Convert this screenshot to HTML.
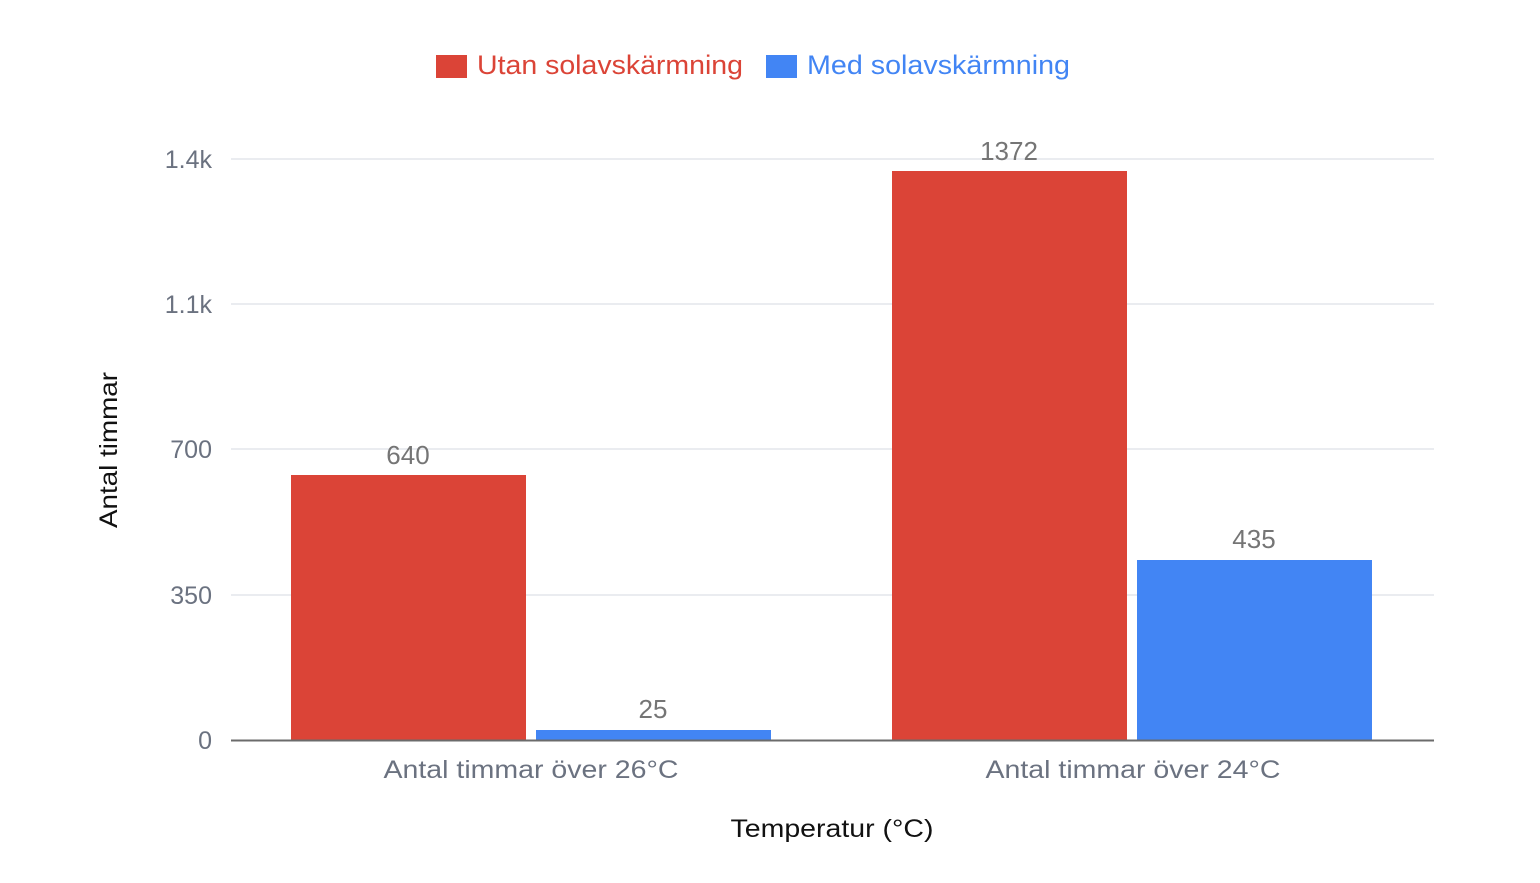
<!DOCTYPE html>
<html><head><meta charset="utf-8"><style>
body{margin:0;background:#fff;}
svg{display:block;font-family:"Liberation Sans",sans-serif;}
</style></head><body>
<svg width="1540" height="883" viewBox="0 0 1540 883">
<rect x="436" y="55" width="31" height="23" fill="#db4437"/>
<text x="477" y="74" font-size="27" fill="#db4437" textLength="266" lengthAdjust="spacingAndGlyphs">Utan solavskärmning</text>
<rect x="766" y="55" width="31" height="23" fill="#4285f4"/>
<text x="807" y="74" font-size="27" fill="#4285f4" textLength="263" lengthAdjust="spacingAndGlyphs">Med solavskärmning</text>
<g stroke="#e3e6ec" stroke-width="1.5">
<line x1="231" y1="159" x2="1434" y2="159"/>
<line x1="231" y1="304" x2="1434" y2="304"/>
<line x1="231" y1="449" x2="1434" y2="449"/>
<line x1="231" y1="595" x2="1434" y2="595"/>
</g>
<g font-size="25" fill="#6b7280" text-anchor="end">
<text x="212" y="168">1.4k</text>
<text x="212" y="313">1.1k</text>
<text x="212" y="458">700</text>
<text x="212" y="604">350</text>
<text x="212" y="749">0</text>
</g>
<rect x="291" y="475" width="235" height="265" fill="#db4437"/>
<rect x="536" y="730" width="235" height="10" fill="#4285f4"/>
<rect x="892" y="171" width="235" height="569" fill="#db4437"/>
<rect x="1137" y="560" width="235" height="180" fill="#4285f4"/>
<line x1="231" y1="740.5" x2="1434" y2="740.5" stroke="#6b6b6b" stroke-width="2"/>
<g font-size="26" fill="#757575" text-anchor="middle">
<text x="408" y="464">640</text>
<text x="653" y="718">25</text>
<text x="1009" y="160">1372</text>
<text x="1254" y="548">435</text>
</g>
<g font-size="25" fill="#6b7280" text-anchor="middle">
<text x="531" y="778" textLength="295" lengthAdjust="spacingAndGlyphs">Antal timmar över 26°C</text>
<text x="1133" y="778" textLength="295" lengthAdjust="spacingAndGlyphs">Antal timmar över 24°C</text>
</g>
<text x="832" y="837" font-size="25" fill="#111" text-anchor="middle" textLength="203" lengthAdjust="spacingAndGlyphs">Temperatur (°C)</text>
<text transform="translate(117,450) rotate(-90)" font-size="25" fill="#111" text-anchor="middle" textLength="156" lengthAdjust="spacingAndGlyphs">Antal timmar</text>
</svg>
</body></html>
